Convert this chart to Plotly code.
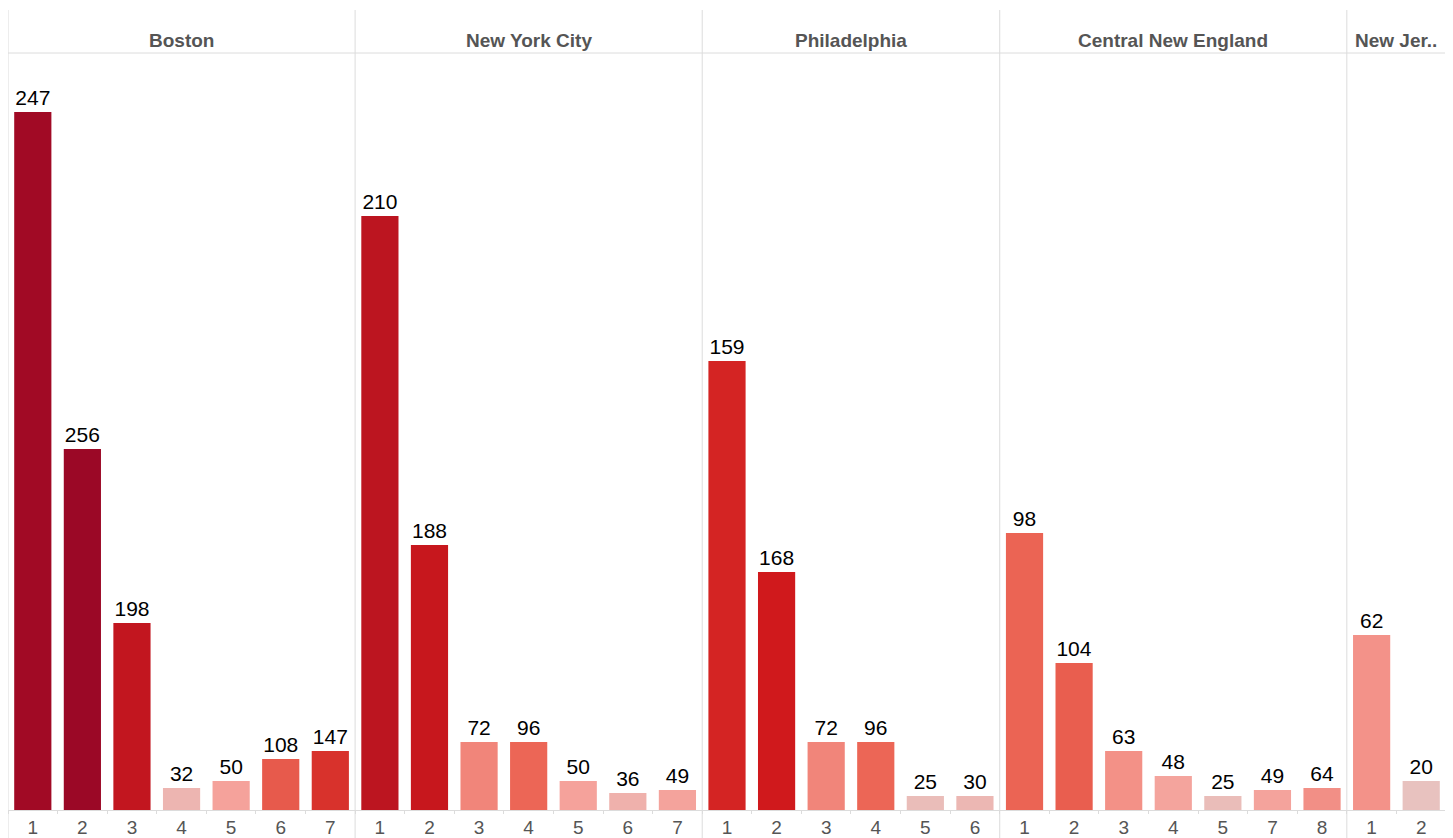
import plotly.graph_objects as go
from plotly.subplots import make_subplots

regions = ['Boston', 'New York City', 'Philadelphia', 'Central New England', 'New Jer..']

boston_cats = ['1', '2', '3', '4', '5', '6', '7']
boston_height = [698, 361, 187, 22, 29, 51, 59]
boston_label = [247, 256, 198, 32, 50, 108, 147]

nyc_cats = ['1', '2', '3', '4', '5', '6', '7']
nyc_height = [594, 265, 68, 68, 29, 17, 20]
nyc_label = [210, 188, 72, 96, 50, 36, 49]

phl_cats = ['1', '2', '3', '4', '5', '6']
phl_height = [449, 238, 68, 68, 14, 14]
phl_label = [159, 168, 72, 96, 25, 30]

cne_cats = ['1', '2', '3', '4', '5', '7', '8']
cne_height = [277, 147, 59, 34, 14, 20, 22]
cne_label = [98, 104, 63, 48, 25, 49, 64]

nj_cats = ['1', '2']
nj_height = [175, 29]
nj_label = [62, 20]

panels = [
    (boston_cats, boston_height, boston_label),
    (nyc_cats, nyc_height, nyc_label),
    (phl_cats, phl_height, phl_label),
    (cne_cats, cne_height, cne_label),
    (nj_cats, nj_height, nj_label),
]

reds = [
    [0.0, '#e8c2bf'],
    [0.13, '#f5a19a'],
    [0.32, '#ec6656'],
    [0.54, '#d8322c'],
    [0.63, '#d0181b'],
    [0.80, '#bd1520'],
    [1.0, '#9b0826'],
]

grid = '#dcdcdc'
font_name = 'Liberation Sans, Arial, sans-serif'

fig = make_subplots(rows=1, cols=5, column_widths=[len(p[0]) for p in panels],
                    horizontal_spacing=0, shared_yaxes=True)

for i, (cats, h, lab) in enumerate(panels):
    fig.add_trace(go.Bar(
        x=cats, y=h, width=0.75,
        text=[str(v) for v in lab], textposition='outside',
        textfont=dict(size=21, color='black', family=font_name),
        cliponaxis=False,
        marker=dict(color=lab, colorscale=reds, cmin=20, cmax=256, line_width=0),
        showlegend=False,
    ), row=1, col=i + 1)

fig.update_xaxes(type='category', showline=True, linecolor=grid, linewidth=1,
                 ticks='outside', tickson='boundaries', ticklen=3, tickcolor=grid,
                 tickfont=dict(size=19, color='#555555', family=font_name),
                 showgrid=False, zeroline=False, fixedrange=True)
fig.update_yaxes(range=[0, 757], visible=False, showgrid=False, fixedrange=True)

# page body adds 8px on top and left
fig.update_layout(
    width=1445, height=830,
    margin=dict(l=0, r=7, t=45, b=28),
    paper_bgcolor='white', plot_bgcolor='white',
    bargap=0.25,
)

# header lines and panel borders
ytop = (810 - 10) / 757
ybot = (810 - 838) / 757
total = sum(len(p[0]) for p in panels)
edges = [0]
for p in panels:
    edges.append(edges[-1] + len(p[0]) / total)

shapes = []
for e in edges:
    shapes.append(dict(type='line', xref='paper', yref='paper', x0=e, x1=e,
                       y0=ybot, y1=ytop, line=dict(color=grid, width=1)))
shapes.append(dict(type='line', xref='paper', yref='paper', x0=0, x1=1 + 7 / 1438,
                   y0=1, y1=1, line=dict(color=grid, width=1)))
fig.update_layout(shapes=shapes)

for i, name in enumerate(regions):
    fig.add_annotation(text='<b>' + name + '</b>', xref='paper', yref='paper',
                       x=(edges[i] + edges[i + 1]) / 2, y=(810 - 41) / 757,
                       xanchor='center', yanchor='middle', showarrow=False,
                       font=dict(size=19, color='#555555', family=font_name))

fig.write_html('out.html')
